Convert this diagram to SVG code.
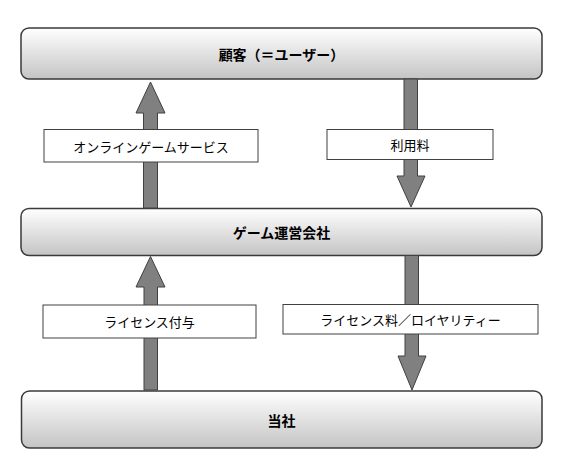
<svg xmlns="http://www.w3.org/2000/svg" width="566" height="466" viewBox="0 0 566 466">
  <defs>
    <linearGradient id="boxGrad" x1="0" y1="0" x2="0" y2="1">
      <stop offset="0" stop-color="#ffffff"/>
      <stop offset="1" stop-color="#c4c4c4"/>
    </linearGradient>
  </defs>
  <style>
    .box { fill: url(#boxGrad); stroke: #3a3a3a; stroke-width: 1.5; }
    .title { font-family: "Noto Sans CJK JP", "Noto Sans", sans-serif; font-size: 14px; font-weight: bold; fill: #000; text-anchor: middle; dominant-baseline: central; }
    .arrow { fill: #808080; stroke: #404040; stroke-width: 1; stroke-linejoin: miter; }
    .lbox { fill: #ffffff; stroke: #404040; stroke-width: 1; }
    .ltext { font-family: "Noto Sans CJK JP", "Noto Sans", sans-serif; font-size: 13px; fill: #000; text-anchor: middle; dominant-baseline: central; }
  </style>
  <rect width="566" height="466" fill="#ffffff"/>

  <g id="customer">
    <rect class="box" x="21" y="28" width="521" height="51" rx="8" ry="8"/>
    <text class="title" x="281.5" y="53.5">顧客（＝ユーザー）</text>
  </g>
  <g id="operator">
    <rect class="box" x="21" y="208.5" width="521" height="47" rx="8" ry="8"/>
    <text class="title" x="281.5" y="232">ゲーム運営会社</text>
  </g>
  <g id="company">
    <rect class="box" x="21.5" y="391" width="520.5" height="57" rx="8" ry="8"/>
    <text class="title" x="281.5" y="419.5">当社</text>
  </g>

  <g id="connectors">
    <polygon class="arrow" points="143.5,208 143.5,113 136,113 150.5,82 165,113 157.5,113 157.5,208"/>
    <polygon class="arrow" points="404,79 404,176 397,176 411,207 425,176 417.5,176 417.5,79"/>
    <polygon class="arrow" points="144,390 144,287 136,287 150.5,256.5 165,287 157.5,287 157.5,390"/>
    <polygon class="arrow" points="405,255.5 405,356 398,356 412,390 426,356 418.5,356 418.5,255.5"/>

    <g id="label-service">
      <rect class="lbox" x="44" y="129.5" width="214" height="32.5"/>
      <text class="ltext" x="151" y="146">オンラインゲームサービス</text>
    </g>
    <g id="label-fee">
      <rect class="lbox" x="327" y="129.5" width="166" height="30"/>
      <text class="ltext" x="410" y="144.5">利用料</text>
    </g>
    <g id="label-license">
      <rect class="lbox" x="43" y="305" width="213" height="33"/>
      <text class="ltext" x="149.5" y="321.5">ライセンス付与</text>
    </g>
    <g id="label-royalty">
      <rect class="lbox" x="283" y="304.5" width="255" height="29.5"/>
      <text class="ltext" x="410.5" y="319.5">ライセンス料／ロイヤリティー</text>
    </g>
  </g>
</svg>
